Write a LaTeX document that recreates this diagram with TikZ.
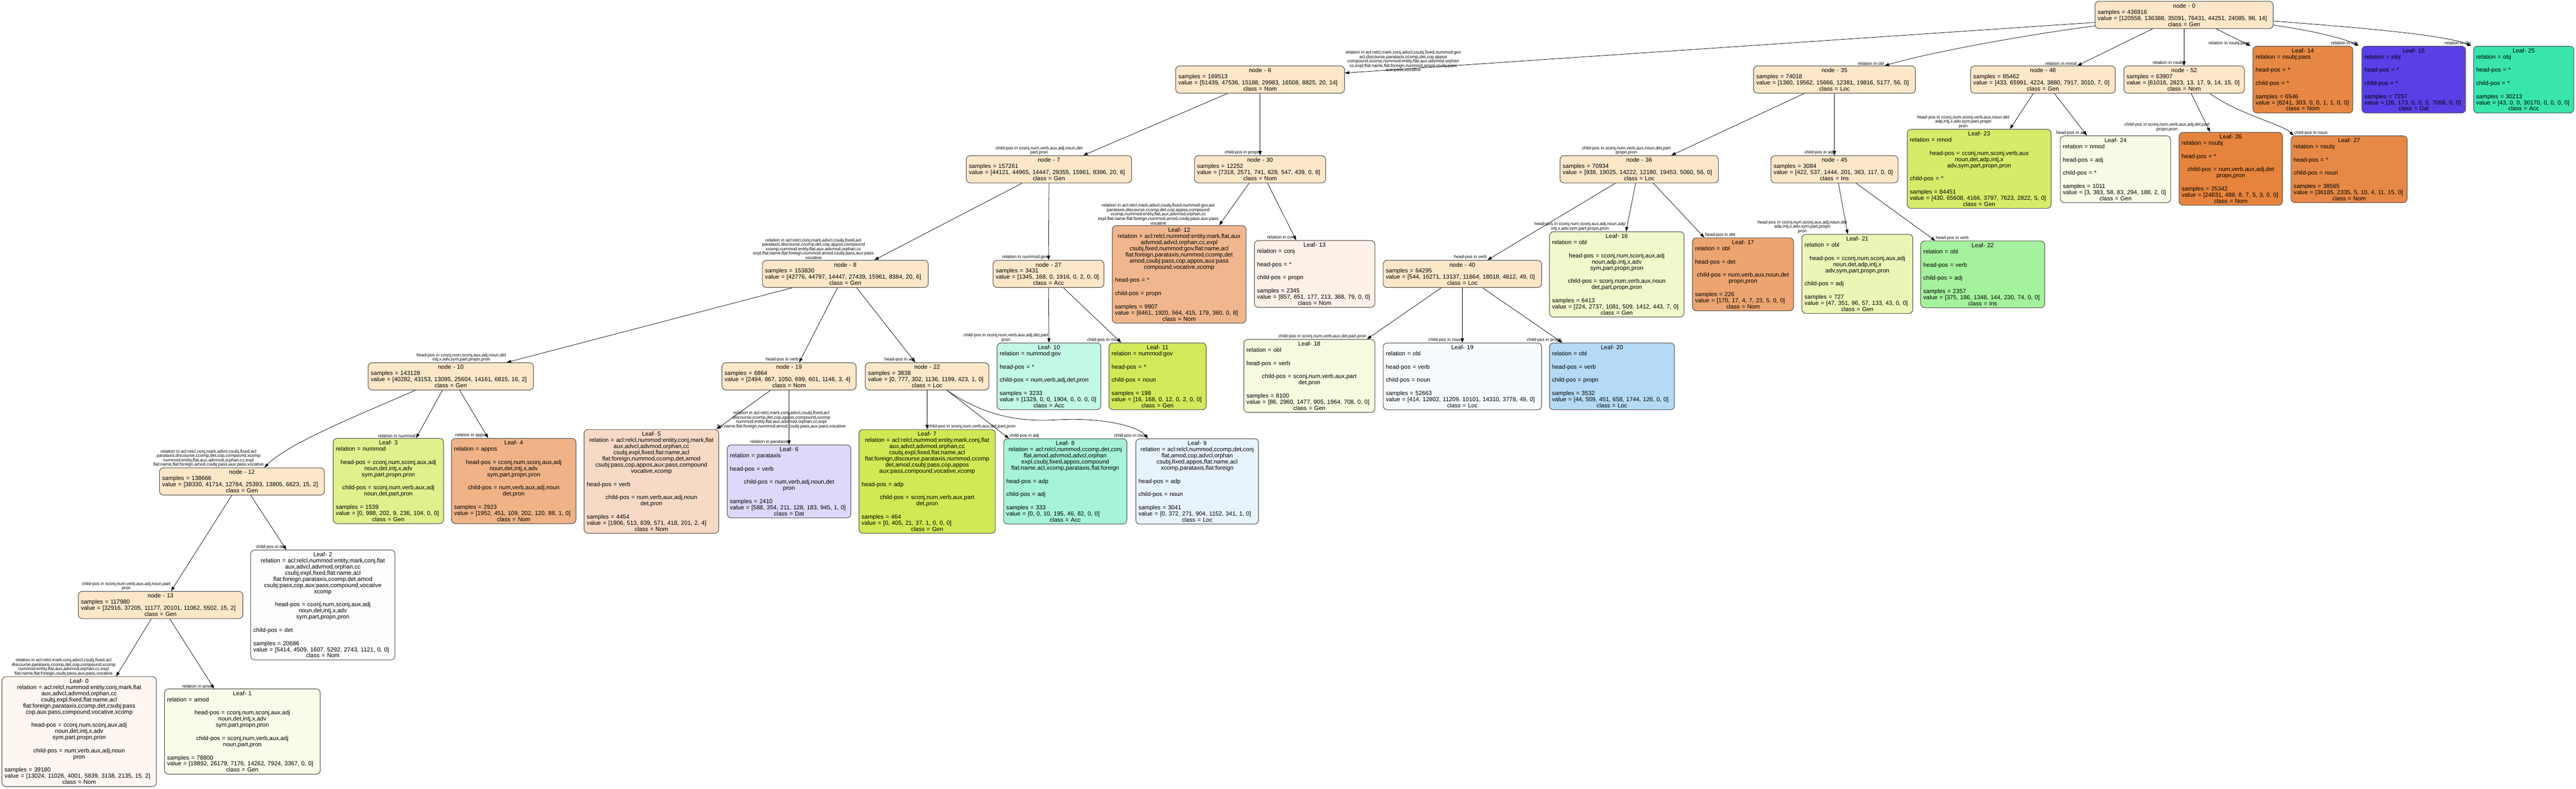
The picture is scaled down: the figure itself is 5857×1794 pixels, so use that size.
\documentclass[tikz,border=0pt]{standalone}
\usepackage{fontspec}
\setmainfont{Liberation Sans}
\usetikzlibrary{arrows.meta}

\definecolor{innerfill}{HTML}{FDE7C9}
\definecolor{leaf0}{HTML}{FDF6F1}
\definecolor{leaf1}{HTML}{F9FCEA}
\definecolor{leaf2}{HTML}{FEFDFC}
\definecolor{leaf3}{HTML}{E0F08D}
\definecolor{leaf4}{HTML}{EFB387}
\definecolor{leaf5}{HTML}{F7DAC5}
\definecolor{leaf6}{HTML}{DED8FA}
\definecolor{leaf7}{HTML}{D0E954}
\definecolor{leaf8}{HTML}{A6F3DA}
\definecolor{leaf9}{HTML}{E8F4FC}
\definecolor{leaf10}{HTML}{C3F7E6}
\definecolor{leaf11}{HTML}{D2E95A}
\definecolor{leaf12}{HTML}{F0B78E}
\definecolor{leaf13}{HTML}{FCF0E7}
\definecolor{leaf14}{HTML}{E68743}
\definecolor{leaf15}{HTML}{5B3FE6}
\definecolor{leaf16}{HTML}{F1F8CB}
\definecolor{leaf17}{HTML}{ECA470}
\definecolor{leaf18}{HTML}{F6FBDF}
\definecolor{leaf19}{HTML}{F8FBFE}
\definecolor{leaf20}{HTML}{B4DAF5}
\definecolor{leaf21}{HTML}{EBF5B6}
\definecolor{leaf22}{HTML}{A5F29E}
\definecolor{leaf23}{HTML}{D6EB69}
\definecolor{leaf24}{HTML}{F8FCE6}
\definecolor{leaf25}{HTML}{39E5AC}
\definecolor{leaf26}{HTML}{E6843D}
\definecolor{leaf27}{HTML}{E78946}

\newcommand{\ctr}[1]{\makebox[\linewidth]{#1}}
\newcommand{\gapline}{\\[16pt]}
\newcommand{\splittext}[4]{\ctr{node - #1}\\samples = #2\\value = [#3]\\\ctr{class = #4}}

\begin{document}
\begin{tikzpicture}[x=1pt, y=-1pt,
    box/.style={draw=black!65, line width=1.4pt, rounded corners=9pt,
      inner xsep=6pt, inner ysep=5pt, align=left,
      font=\fontsize{13.5}{14}\selectfont},
    splitnode/.style={box, fill=innerfill},
    leafnode/.style={box, fill=#1},
    edge/.style={line width=0.9pt, -{Triangle[length=10pt, width=7pt]}},
    lbl/.style={font=\fontsize{10}{10}\selectfont, align=center, inner sep=1pt},
    lblleft/.style={lbl, anchor=south east},
    lblright/.style={lbl, anchor=south west}]

        \fill[white] (0,0) rectangle (5857,1794);
        \useasboundingbox (0,0) rectangle (5857,1794);

        % Root and first level.
        \node[splitnode, text width=393pt] (n0) at (4966,34)
        {\splittext{0}{436916}{120558, 136388, 35091, 76431, 44251, 24085, 98, 14}{Gen}};
        \node[splitnode, text width=372pt] (n6) at (2865,181)
        {\splittext{6}{169513}{51439, 47536, 15188, 29983, 16508, 8825, 20, 14}{Nom}};
        \node[splitnode, text width=356pt] (n35) at (4171,181)
        {\splittext{35}{74018}{1360, 19562, 15666, 12381, 19816, 5177, 56, 0}{Loc}};
        \node[splitnode, text width=317pt] (n48) at (4645,181)
        {\splittext{48}{85462}{433, 65991, 4224, 3880, 7917, 3010, 7, 0}{Gen}};
        \node[splitnode, text width=262pt] (n52) at (4966,181)
        {\splittext{52}{63907}{61016, 2823, 13, 17, 9, 14, 15, 0}{Nom}};
        \node[leafnode=leaf14, text width=215pt] (l14) at (5236,181)
        {\ctr{Leaf- 14}\\relation = nsubj:pass\gapline head-pos = *\gapline child-pos = *\gapline
         samples = 6546\\value = [6241, 303, 0, 0, 1, 1, 0, 0]\\\ctr{class = Nom}};
        \node[leafnode=leaf15, text width=224pt] (l15) at (5488,181)
        {\ctr{Leaf- 15}\\relation = iobj\gapline head-pos = *\gapline child-pos = *\gapline
         samples = 7257\\value = [26, 173, 0, 0, 0, 7058, 0, 0]\\\ctr{class = Dat}};
        \node[leafnode=leaf25, text width=216pt] (l25) at (5738,181)
        {\ctr{Leaf- 25}\\relation = obj\gapline head-pos = *\gapline child-pos = *\gapline
         samples = 30213\\value = [43, 0, 0, 30170, 0, 0, 0, 0]\\\ctr{class = Acc}};

        % Second level.
        \node[splitnode, text width=364pt] (n7) at (2385,385)
        {\splittext{7}{157261}{44121, 44965, 14447, 29355, 15961, 8386, 20, 6}{Gen}};
        \node[splitnode, text width=286pt] (n30) at (2865,385)
        {\splittext{30}{12252}{7318, 2571, 741, 628, 547, 439, 0, 8}{Nom}};
        \node[splitnode, text width=348pt] (n36) at (3727,385)
        {\splittext{36}{70934}{938, 19025, 14222, 12180, 19453, 5060, 56, 0}{Loc}};
        \node[splitnode, text width=277pt] (n45) at (4171,385)
        {\splittext{45}{3084}{422, 537, 1444, 201, 363, 117, 0, 0}{Ins}};
        \node[leafnode=leaf23, text width=315pt] (l23) at (4500,384)
        {\ctr{Leaf- 23}\\relation = nmod\gapline
         \ctr{head-pos = cconj,num,sconj,verb,aux}\\\ctr{noun,det,adp,intj,x}\\\ctr{adv,sym,part,propn,pron}\gapline
         child-pos = *\gapline
         samples = 84451\\value = [430, 65608, 4166, 3797, 7623, 2822, 5, 0]\\\ctr{class = Gen}};
        \node[leafnode=leaf24, text width=239pt] (l24) at (4810,385)
        {\ctr{Leaf- 24}\\relation = nmod\gapline head-pos = adj\gapline child-pos = *\gapline
         samples = 1011\\value = [3, 383, 58, 83, 294, 188, 2, 0]\\\ctr{class = Gen}};
        \node[leafnode=leaf26, text width=223pt] (l26) at (5072,384)
        {\ctr{Leaf- 26}\\relation = nsubj\gapline head-pos = *\gapline
         \ctr{child-pos = num,verb,aux,adj,det}\\\ctr{propn,pron}\gapline
         samples = 25342\\value = [24831, 488, 8, 7, 5, 3, 0, 0]\\\ctr{class = Nom}};
        \node[leafnode=leaf27, text width=252pt] (l27) at (5341,385)
        {\ctr{Leaf- 27}\\relation = nsubj\gapline head-pos = *\gapline child-pos = noun\gapline
         samples = 38565\\value = [36185, 2335, 5, 10, 4, 11, 15, 0]\\\ctr{class = Nom}};

        % Third level.
        \node[splitnode, text width=365pt] (n8) at (1922,623)
        {\splittext{8}{153830}{42776, 44797, 14447, 27439, 15961, 8384, 20, 6}{Gen}};
        \node[splitnode, text width=240pt] (n27) at (2384,623)
        {\splittext{27}{3431}{1345, 168, 0, 1916, 0, 2, 0, 0}{Acc}};
        \node[leafnode=leaf12, text width=292pt] (l12) at (2681,624)
        {\ctr{Leaf- 12}\\\ctr{relation = acl:relcl,nummod:entity,mark,flat,aux}\\
         \ctr{advmod,advcl,orphan,cc,expl}\\\ctr{csubj,fixed,nummod:gov,flat:name,acl}\\
         \ctr{flat:foreign,parataxis,nummod,ccomp,det}\\\ctr{amod,csubj:pass,cop,appos,aux:pass}\\
         \ctr{compound,vocative,xcomp}\gapline
         head-pos = *\gapline child-pos = propn\gapline
         samples = 9907\\value = [6461, 1920, 564, 415, 179, 360, 0, 8]\\\ctr{class = Nom}};
        \node[leafnode=leaf13, text width=262pt] (l13) at (2989,623)
        {\ctr{Leaf- 13}\\relation = conj\gapline head-pos = *\gapline child-pos = propn\gapline
         samples = 2345\\value = [857, 651, 177, 213, 368, 79, 0, 0]\\\ctr{class = Nom}};
        \node[splitnode, text width=348pt] (n40) at (3325,623)
        {\splittext{40}{64295}{544, 16271, 13137, 11664, 18018, 4612, 49, 0}{Loc}};
        \node[leafnode=leaf16, text width=294pt] (l16) at (3676,624)
        {\ctr{Leaf- 16}\\relation = obl\gapline
         \ctr{head-pos = cconj,num,sconj,aux,adj}\\\ctr{noun,adp,intj,x,adv}\\\ctr{sym,part,propn,pron}\gapline
         \ctr{child-pos = sconj,num,verb,aux,noun}\\\ctr{det,part,propn,pron}\gapline
         samples = 6413\\value = [224, 2737, 1081, 509, 1412, 443, 7, 0]\\\ctr{class = Gen}};
        \node[leafnode=leaf17, text width=218pt] (l17) at (3963,624)
        {\ctr{Leaf- 17}\\relation = obl\gapline head-pos = det\gapline
         \ctr{child-pos = num,verb,aux,noun,det}\\\ctr{propn,pron}\gapline
         samples = 226\\value = [170, 17, 4, 7, 23, 5, 0, 0]\\\ctr{class = Nom}};
        \node[leafnode=leaf21, text width=240pt] (l21) at (4223,623)
        {\ctr{Leaf- 21}\\relation = obl\gapline
         \ctr{head-pos = cconj,num,sconj,aux,adj}\\\ctr{noun,det,adp,intj,x}\\\ctr{adv,sym,part,propn,pron}\gapline
         child-pos = adj\gapline
         samples = 727\\value = [47, 351, 96, 57, 133, 43, 0, 0]\\\ctr{class = Gen}};
        \node[leafnode=leaf22, text width=270pt] (l22) at (4508,624)
        {\ctr{Leaf- 22}\\relation = obl\gapline head-pos = verb\gapline child-pos = adj\gapline
         samples = 2357\\value = [375, 186, 1348, 144, 230, 74, 0, 0]\\\ctr{class = Ins}};

        % Fourth level.
        \node[splitnode, text width=364pt] (n10) at (1025,856)
        {\splittext{10}{143128}{40282, 43153, 13095, 25604, 14161, 6815, 16, 2}{Gen}};
        \node[splitnode, text width=293pt] (n19) at (1794,856)
        {\splittext{19}{6864}{2494, 867, 1050, 699, 601, 1146, 3, 4}{Nom}};
        \node[splitnode, text width=269pt] (n22) at (2108,856)
        {\splittext{22}{3838}{0, 777, 302, 1136, 1199, 423, 1, 0}{Loc}};
        \node[leafnode=leaf10, text width=224pt] (l10) at (2385,856)
        {\ctr{Leaf- 10}\\relation = nummod:gov\gapline head-pos = *\gapline
         child-pos = num,verb,adj,det,pron\gapline
         samples = 3233\\value = [1329, 0, 0, 1904, 0, 0, 0, 0]\\\ctr{class = Acc}};
        \node[leafnode=leaf11, text width=209pt] (l11) at (2632,856)
        {\ctr{Leaf- 11}\\relation = nummod:gov\gapline head-pos = *\gapline child-pos = noun\gapline
         samples = 198\\value = [16, 168, 0, 12, 0, 2, 0, 0]\\\ctr{class = Gen}};
        \node[leafnode=leaf18, text width=286pt] (l18) at (2977,855)
        {\ctr{Leaf- 18}\\relation = obl\gapline head-pos = verb\gapline
         \ctr{child-pos = sconj,num,verb,aux,part}\\\ctr{det,pron}\gapline
         samples = 8100\\value = [86, 2960, 1477, 905, 1964, 708, 0, 0]\\\ctr{class = Gen}};
        \node[leafnode=leaf19, text width=348pt] (l19) at (3325,856)
        {\ctr{Leaf- 19}\\relation = obl\gapline head-pos = verb\gapline child-pos = noun\gapline
         samples = 52663\\value = [414, 12802, 11209, 10101, 14310, 3778, 49, 0]\\\ctr{class = Loc}};
        \node[leafnode=leaf20, text width=272pt] (l20) at (3665,856)
        {\ctr{Leaf- 20}\\relation = obl\gapline head-pos = verb\gapline child-pos = propn\gapline
         samples = 3532\\value = [44, 509, 451, 658, 1744, 126, 0, 0]\\\ctr{class = Loc}};

        % Fifth level.
        \node[splitnode, text width=363pt] (n12) at (550,1095)
        {\splittext{12}{138666}{38330, 41714, 12784, 25393, 13805, 6623, 15, 2}{Gen}};
        \node[leafnode=leaf3, text width=239pt] (l3) at (883,1094)
        {\ctr{Leaf- 3}\\relation = nummod\gapline
         \ctr{head-pos = cconj,num,sconj,aux,adj}\\\ctr{noun,det,intj,x,adv}\\\ctr{sym,part,propn,pron}\gapline
         \ctr{child-pos = sconj,num,verb,aux,adj}\\\ctr{noun,det,part,pron}\gapline
         samples = 1539\\value = [0, 988, 202, 9, 236, 104, 0, 0]\\\ctr{class = Gen}};
        \node[leafnode=leaf4, text width=271pt] (l4) at (1168,1094)
        {\ctr{Leaf- 4}\\relation = appos\gapline
         \ctr{head-pos = cconj,num,sconj,aux,adj}\\\ctr{noun,det,intj,x,adv}\\\ctr{sym,part,propn,pron}\gapline
         \ctr{child-pos = num,verb,aux,adj,noun}\\\ctr{det,pron}\gapline
         samples = 2923\\value = [1952, 451, 109, 202, 120, 88, 1, 0]\\\ctr{class = Nom}};
        \node[leafnode=leaf5, text width=294pt] (l5) at (1481,1095)
        {\ctr{Leaf- 5}\\\ctr{relation = acl:relcl,nummod:entity,conj,mark,flat}\\
         \ctr{aux,advcl,advmod,orphan,cc}\\\ctr{csubj,expl,fixed,flat:name,acl}\\
         \ctr{flat:foreign,nummod,ccomp,det,amod}\\\ctr{csubj:pass,cop,appos,aux:pass,compound}\\
         \ctr{vocative,xcomp}\gapline
         head-pos = verb\gapline
         \ctr{child-pos = num,verb,aux,adj,noun}\\\ctr{det,pron}\gapline
         samples = 4454\\value = [1906, 513, 839, 571, 418, 201, 2, 4]\\\ctr{class = Nom}};
        \node[leafnode=leaf6, text width=269pt] (l6) at (1794,1095)
        {\ctr{Leaf- 6}\\relation = parataxis\gapline head-pos = verb\gapline
         \ctr{child-pos = num,verb,adj,noun,det}\\\ctr{pron}\gapline
         samples = 2410\\value = [588, 354, 211, 128, 183, 945, 1, 0]\\\ctr{class = Dat}};
        \node[leafnode=leaf7, text width=298pt] (l7) at (2108,1095)
        {\ctr{Leaf- 7}\\\ctr{relation = acl:relcl,nummod:entity,mark,conj,flat}\\
         \ctr{aux,advcl,advmod,orphan,cc}\\\ctr{csubj,expl,fixed,flat:name,acl}\\
         \ctr{flat:foreign,discourse,parataxis,nummod,ccomp}\\\ctr{det,amod,csubj:pass,cop,appos}\\
         \ctr{aux:pass,compound,vocative,xcomp}\gapline
         head-pos = adp\gapline
         \ctr{child-pos = sconj,num,verb,aux,part}\\\ctr{det,pron}\gapline
         samples = 464\\value = [0, 405, 21, 37, 1, 0, 0, 0]\\\ctr{class = Gen}};
        \node[leafnode=leaf8, text width=268pt] (l8) at (2422,1095)
        {\ctr{Leaf- 8}\\\ctr{relation = acl:relcl,nummod,ccomp,det,conj}\\
         \ctr{flat,amod,advmod,advcl,orphan}\\\ctr{expl,csubj,fixed,appos,compound}\\
         \ctr{flat:name,acl,xcomp,parataxis,flat:foreign}\gapline
         head-pos = adp\gapline child-pos = adj\gapline
         samples = 333\\value = [0, 0, 10, 195, 46, 82, 0, 0]\\\ctr{class = Acc}};
        \node[leafnode=leaf9, text width=267pt] (l9) at (2722,1095)
        {\ctr{Leaf- 9}\\\ctr{relation = acl:relcl,nummod,ccomp,det,conj}\\
         \ctr{flat,amod,cop,advcl,orphan}\\\ctr{csubj,fixed,appos,flat:name,acl}\\
         \ctr{xcomp,parataxis,flat:foreign}\gapline
         head-pos = adp\gapline child-pos = noun\gapline
         samples = 3041\\value = [0, 372, 271, 904, 1152, 341, 1, 0]\\\ctr{class = Loc}};

        % Sixth and seventh level.
        \node[splitnode, text width=362pt] (n13) at (365,1376)
        {\splittext{13}{117980}{32916, 37205, 11177, 20101, 11062, 5502, 15, 2}{Gen}};
        \node[leafnode=leaf2, text width=316pt] (l2) at (734,1376)
        {\ctr{Leaf- 2}\\\ctr{relation = acl:relcl,nummod:entity,mark,conj,flat}\\
         \ctr{aux,advcl,advmod,orphan,cc}\\\ctr{csubj,expl,fixed,flat:name,acl}\\
         \ctr{flat:foreign,parataxis,ccomp,det,amod}\\\ctr{csubj:pass,cop,aux:pass,compound,vocative}\\
         \ctr{xcomp}\gapline
         \ctr{head-pos = cconj,num,sconj,aux,adj}\\\ctr{noun,det,intj,x,adv}\\\ctr{sym,part,propn,pron}\gapline
         child-pos = det\gapline
         samples = 20686\\value = [5414, 4509, 1607, 5292, 2743, 1121, 0, 0]\\\ctr{class = Nom}};
        \node[leafnode=leaf0, text width=339pt] (l0) at (180,1664)
        {\ctr{Leaf- 0}\\\ctr{relation = acl:relcl,nummod:entity,conj,mark,flat}\\
         \ctr{aux,advcl,advmod,orphan,cc}\\\ctr{csubj,expl,fixed,flat:name,acl}\\
         \ctr{flat:foreign,parataxis,ccomp,det,csubj:pass}\\\ctr{cop,aux:pass,compound,vocative,xcomp}\gapline
         \ctr{head-pos = cconj,num,sconj,aux,adj}\\\ctr{noun,det,intj,x,adv}\\\ctr{sym,part,propn,pron}\gapline
         \ctr{child-pos = num,verb,aux,adj,noun}\\\ctr{pron}\gapline
         samples = 39180\\value = [13024, 11026, 4001, 5839, 3138, 2135, 15, 2]\\\ctr{class = Nom}};
        \node[leafnode=leaf1, text width=342pt] (l1) at (551,1664)
        {\ctr{Leaf- 1}\\relation = amod\gapline
         \ctr{head-pos = cconj,num,sconj,aux,adj}\\\ctr{noun,det,intj,x,adv}\\\ctr{sym,part,propn,pron}\gapline
         \ctr{child-pos = sconj,num,verb,aux,adj}\\\ctr{noun,part,pron}\gapline
         samples = 78800\\value = [19892, 26179, 7176, 14262, 7924, 3367, 0, 0]\\\ctr{class = Gen}};

        % Root splits.
        \draw[edge] ([yshift=-17]n0.west) -- ([yshift=15]n6.east)
        node[lblright] {relation in acl:relcl,mark,conj,advcl,csubj,fixed,nummod:gov\\
          acl,discourse,parataxis,ccomp,det,cop,appos\\
          compound,xcomp,nummod:entity,flat,aux,advmod,orphan\\
          cc,expl,flat:name,flat:foreign,nummod,amod,csubj:pass\\aux:pass,vocative};
        \draw[edge] ([yshift=-25]n0.west) .. controls +(-120,15) and +(120,-35) .. ([xshift=114]n35.north)
        node[lblleft] {relation in obl};
        \draw[edge] ([xshift=-72]n0.south) -- ([xshift=78]n48.north)
        node[lblleft] {relation in nmod};
        \draw[edge] (n0.south) -- (n52.north)
        node[lblleft] {relation in nsubj};
        \draw[edge] ([xshift=73]n0.south) -- ([xshift=-119]l14.north)
        node[lblleft] {relation in nsubj:pass};
        \draw[edge] ([yshift=-23]n0.east) .. controls +(80,12) and +(-40,-20) .. ([xshift=-125]l15.north)
        node[lblleft] {relation in iobj};
        \draw[edge] ([yshift=-14]n0.east) .. controls +(200,15) and +(-60,-25) .. ([xshift=-119]l25.north)
        node[lblleft] {relation in obj};

        % First level splits.
        \draw[edge] ([xshift=-74]n6.south) -- ([xshift=78]n7.north)
        node[lblleft] {child-pos in sconj,num,verb,aux,adj,noun,det\\part,pron};
        \draw[edge] (n6.south) -- (n30.north)
        node[lblleft] {child-pos in propn};
        \draw[edge] ([xshift=-69]n35.south) -- ([xshift=73]n36.north)
        node[lblleft] {child-pos in sconj,num,verb,aux,noun,det,part\\propn,pron};
        \draw[edge] (n35.south) -- (n45.north)
        node[lblleft] {child-pos in adj};
        \draw[edge] ([xshift=-22]n48.south) -- ([xshift=70]l23.north)
        node[lblleft] {head-pos in cconj,num,sconj,verb,aux,noun,det\\adp,intj,x,adv,sym,part,propn\\pron};
        \draw[edge] ([xshift=26]n48.south) -- ([xshift=-65]l24.north)
        node[lblleft] {head-pos in adj};
        \draw[edge] ([xshift=16]n52.south) -- ([xshift=-47]l26.north)
        node[lblleft] {child-pos in sconj,num,verb,aux,adj,det,part\\propn,pron};
        \draw[edge] ([xshift=59]n52.south) .. controls +(60,45) and +(-25,-25) .. ([xshift=-126]l27.north)
        node[lblright] {child-pos in noun};

        % Second level splits.
        \draw[edge] ([xshift=-61]n7.south) -- ([xshift=66]n8.north)
        node[lblleft] {relation in acl:relcl,conj,mark,advcl,csubj,fixed,acl\\
          parataxis,discourse,ccomp,det,cop,appos,compound\\
          xcomp,nummod:entity,flat,aux,advmod,orphan,cc\\
          expl,flat:name,flat:foreign,nummod,amod,csubj:pass,aux:pass\\vocative};
        \draw[edge] (n7.south) -- (n27.north)
        node[lblleft] {relation in nummod:gov};
        \draw[edge] ([xshift=-25]n30.south) -- ([xshift=91]l12.north)
        node[lblleft] {relation in acl:relcl,mark,advcl,csubj,fixed,nummod:gov,acl\\
          parataxis,discourse,ccomp,det,cop,appos,compound\\
          xcomp,nummod:entity,flat,aux,advmod,orphan,cc\\
          expl,flat:name,flat:foreign,nummod,amod,csubj:pass,aux:pass\\vocative};
        \draw[edge] ([xshift=17]n30.south) -- ([xshift=-42]l13.north)
        node[lblleft] {relation in conj};
        \draw[edge] ([xshift=-54]n36.south) -- ([xshift=57]n40.north)
        node[lblleft] {head-pos in verb};
        \draw[edge] ([xshift=-8]n36.south) -- ([xshift=21]l16.north)
        node[lblleft] {head-pos in cconj,num,sconj,aux,adj,noun,adp\\intj,x,adv,sym,part,propn,pron};
        \draw[edge] ([xshift=32]n36.south) -- ([xshift=-88]l17.north)
        node[lblright] {head-pos in det};
        \draw[edge] ([xshift=9]n45.south) -- ([xshift=-22]l21.north)
        node[lblleft] {head-pos in cconj,num,sconj,aux,adj,noun,det\\adp,intj,x,adv,sym,part,propn\\pron};
        \draw[edge] ([xshift=49]n45.south) -- ([xshift=-108]l22.north)
        node[lblright] {head-pos in verb};

        % Third level splits.
        \draw[edge] ([xshift=-121]n8.south) -- ([xshift=127]n10.north)
        node[lblleft] {head-pos in cconj,num,sconj,aux,adj,noun,det\\intj,x,adv,sym,part,propn,pron};
        \draw[edge] ([xshift=-18]n8.south) -- ([xshift=23]n19.north)
        node[lblleft] {head-pos in verb};
        \draw[edge] ([xshift=26]n8.south) -- ([xshift=-27]n22.north)
        node[lblleft] {head-pos in adj};
        \draw[edge] (n27.south) -- (l10.north)
        node[lblleft] {child-pos in sconj,num,verb,aux,adj,det,part\\pron};
        \draw[edge] ([xshift=34]n27.south) -- ([xshift=-83]l11.north)
        node[lblleft] {child-pos in noun};
        \draw[edge] ([xshift=-48]n40.south) -- ([xshift=131]l18.north)
        node[lblleft] {child-pos in sconj,num,verb,aux,det,part,pron};
        \draw[edge] (n40.south) -- (l19.north)
        node[lblleft] {child-pos in noun};
        \draw[edge] ([xshift=46]n40.south) -- ([xshift=-113]l20.north)
        node[lblleft] {child-pos in propn};

        % Fourth level splits.
        \draw[edge] ([xshift=-81]n10.south) .. controls +(-100,45) and +(60,-60) .. ([xshift=51]n12.north)
        node[lblleft] {relation in acl:relcl,conj,mark,advcl,csubj,fixed,acl\\
          parataxis,discourse,ccomp,det,cop,compound,xcomp\\
          nummod:entity,flat,aux,advmod,orphan,cc,expl\\
          flat:name,flat:foreign,amod,csubj:pass,aux:pass,vocative};
        \draw[edge] ([xshift=-19]n10.south) -- ([xshift=63]l3.north)
        node[lblleft] {relation in nummod};
        \draw[edge] ([xshift=20]n10.south) -- ([xshift=-58]l4.north)
        node[lblleft] {relation in appos};
        \draw[edge] ([xshift=-42]n19.south) -- ([xshift=148]l5.north)
        node[lblright] {relation in acl:relcl,mark,conj,advcl,csubj,fixed,acl\\
          discourse,ccomp,det,cop,appos,compound,xcomp\\
          nummod:entity,flat,aux,advmod,orphan,cc,expl\\
          flat:name,flat:foreign,nummod,amod,csubj:pass,aux:pass,vocative};
        \draw[edge] (n19.south) -- (l6.north)
        node[lblleft] {relation in parataxis};
        \draw[edge] (n22.south) -- (l7.north)
        node[lblright] {child-pos in sconj,num,verb,aux,det,part,pron};
        \draw[edge] ([xshift=45]n22.south) -- ([xshift=-128]l8.north)
        node[lblright] {child-pos in adj};
        \coordinate (bend9) at (2400,955);
        \draw[edge] ([xshift=45]n22.south) .. controls +(80,55) and +(-90,5) .. (bend9)
        .. controls +(100,-6) and +(-25,-30) .. ([xshift=-112]l9.north)
        node[lblleft] {child-pos in noun};

        % Fifth and sixth level splits.
        \draw[edge] ([xshift=-23]n12.south) -- ([xshift=24]n13.north)
        node[lblleft] {child-pos in sconj,num,verb,aux,adj,noun,part\\pron};
        \draw[edge] ([xshift=20]n12.south) -- ([xshift=-83]l2.north)
        node[lblleft] {child-pos in det};
        \draw[edge] ([xshift=-21]n13.south) -- ([xshift=84]l0.north)
        node[lblleft] {relation in acl:relcl,mark,conj,advcl,csubj,fixed,acl\\
          discourse,parataxis,ccomp,det,cop,compound,xcomp\\
          nummod:entity,flat,aux,advmod,orphan,cc,expl\\
          flat:name,flat:foreign,csubj:pass,aux:pass,vocative};
        \draw[edge] ([xshift=21]n13.south) -- ([xshift=-64]l1.north)
        node[lblleft] {relation in amod};
      \end{tikzpicture}
\end{document}
